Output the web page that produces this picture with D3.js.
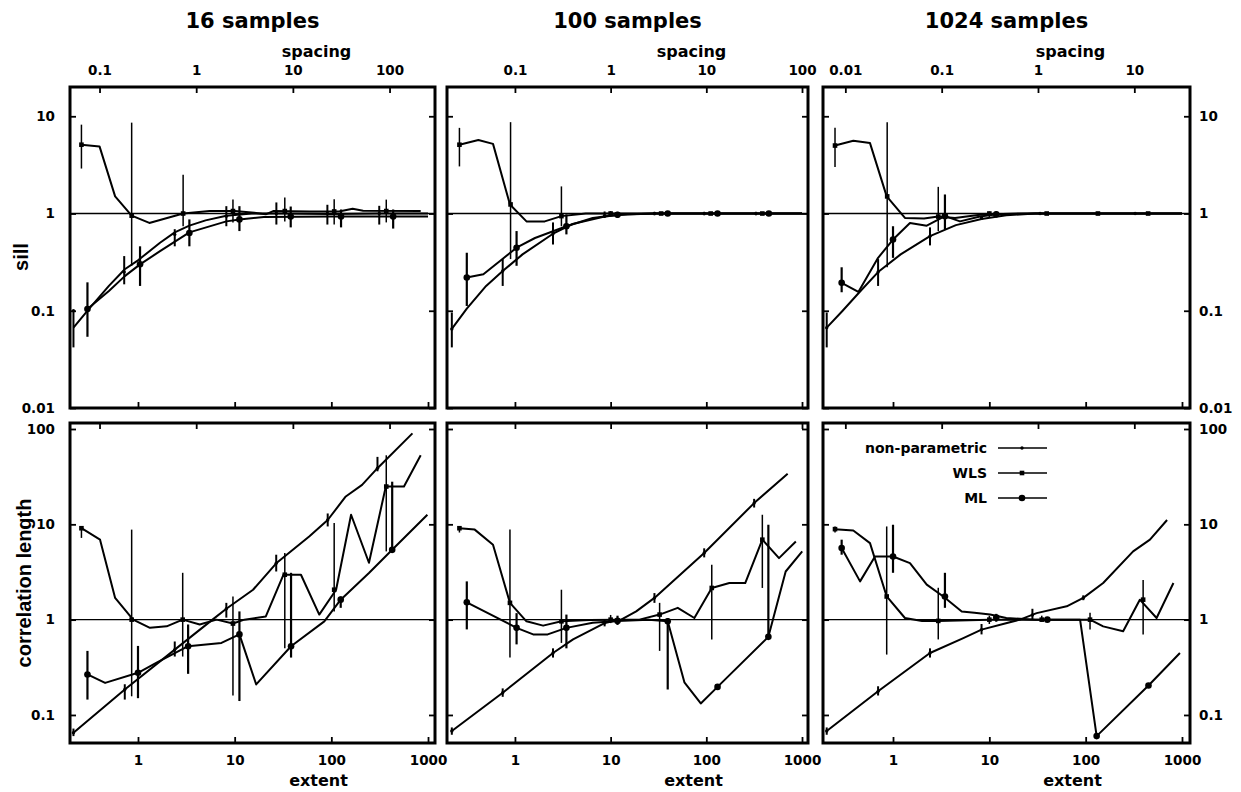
<!DOCTYPE html>
<html><head><meta charset="utf-8">
<script src="https://cdn.jsdelivr.net/npm/d3@7"></script>
<style>body{margin:0;background:#fff}svg{display:block}</style>
</head><body><svg id="c" width="1241" height="792"></svg>
<script>
// ---------------- data ----------------
const titles = ["16 samples", "100 samples", "1024 samples"];
const spacingFactor = [4, 10, 32];          // spacing = extent / sqrt(samples)
const seriesNames = ["non-parametric", "WLS", "ML"];
const extentTicks = [1, 10, 100, 1000];
const sillTicks = [0.01, 0.1, 1, 10];
const corrTicks = [0.1, 1, 10, 100];
const spacingTicks16 = [0.1, 1, 10, 100];
const spacingTicks100 = [0.1, 1, 10, 100];
const spacingTicks1024 = [0.01, 0.1, 1, 10];

// lines: [extent, value]; error bars: [extent, value, low, high]
// ---- sill, 16 samples
const sill16NP = [[0.215,0.067],[0.31,0.104],[0.5,0.18],[0.73,0.267],[1.0,0.33],[1.69,0.5],[2.4,0.64],[3.4,0.75],[5,0.85],[8.2,0.95],[15,1.0],[30,1.0],[100,0.99],[300,1.0],[1000,1.0]];
const sill16NPerr = [[0.215,0.1,0.042,0.1],[0.72,0.25,0.187,0.365],[2.4,0.61,0.46,0.69],[8.2,0.94,0.74,1.19],[27,1.0,0.77,1.3],[91,1.0,0.77,1.23],[313,1.0,0.77,1.2]];
const sill16WLS = [[0.26,5.1],[0.40,4.9],[0.58,1.5],[0.86,0.95],[1.31,0.80],[2.93,1.0],[5.5,1.06],[10,1.06],[16,1.02],[21,0.98],[25,1.06],[60,1.05],[120,1.05],[166,1.12],[213,1.07],[840,1.06]];
const sill16WLSerr = [[0.26,5.1,2.9,8.2],[0.86,0.95,0.29,8.6],[2.93,1.0,0.74,2.5],[9.6,1.06,0.81,1.39],[33,1.06,0.83,1.46],[107,1.05,0.77,1.4],[370,1.06,0.81,1.39]];
const sill16ML = [[0.30,0.104],[0.5,0.16],[0.73,0.227],[1.05,0.30],[1.69,0.41],[3.4,0.64],[8.2,0.83],[11.2,0.87],[20,0.92],[100,0.93],[1000,0.93]];
const sill16MLerr = [[0.30,0.104,0.054,0.196],[1.05,0.30,0.18,0.46],[3.4,0.63,0.46,0.87],[11.2,0.87,0.66,1.19],[38,0.93,0.72,1.18],[126,0.93,0.72,1.1],[436,0.93,0.7,1.1]];
// ---- sill, 100 samples
const sill100NP = [[0.219,0.065],[0.314,0.105],[0.5,0.18],[0.745,0.256],[1.2,0.38],[2.5,0.62],[4,0.78],[8.65,0.93],[15,0.98],[30,1.0],[1000,1.0]];
const sill100NPerr = [[0.219,0.065,0.042,0.096],[0.745,0.256,0.18,0.34],[2.5,0.62,0.48,0.81],[8.65,0.95,0.9,1.05],[28.7,1,0.96,1.04],[95,1,0.96,1.04],[330,1,0.96,1.04]];
const sill100WLS = [[0.263,5.1],[0.415,5.7],[0.59,5.2],[0.887,1.24],[1.32,0.83],[2.05,0.83],[3.06,0.94],[5.5,1.0],[1000,1.0]];
const sill100WLSerr = [[0.263,5.1,3.05,7.6],[0.9,1.24,0.34,8.7],[3.06,0.94,0.74,1.9],[10,1,0.95,1.06],[33.7,1,0.97,1.03],[111,1,0.97,1.03],[385,1,0.97,1.03]];
const sill100ML = [[0.314,0.22],[0.468,0.237],[0.73,0.337],[1.04,0.445],[1.62,0.56],[3.45,0.74],[6.5,0.9],[11.8,0.97],[30,1],[1000,1]];
const sill100MLerr = [[0.314,0.22,0.112,0.395],[1.04,0.445,0.29,0.66],[3.45,0.74,0.61,0.98],[11.8,0.97,0.9,1.04],[39.5,1,0.96,1.04],[131,1,0.96,1.04],[450,1,0.96,1.04]];
// ---- sill, 1024 samples
const sill1024NP = [[0.205,0.067],[0.3,0.1],[0.45,0.156],[0.70,0.25],[1.2,0.38],[2.42,0.585],[4.5,0.76],[8.3,0.88],[15,0.96],[30,1],[1000,1]];
const sill1024NPerr = [[0.205,0.067,0.042,0.096],[0.70,0.25,0.18,0.34],[2.42,0.585,0.47,0.72],[8.3,0.9,0.86,0.95],[33.6,1,0.98,1.02],[134,1,0.98,1.02],[326,1,0.98,1.02]];
const sill1024WLS = [[0.25,5.0],[0.387,5.6],[0.577,5.3],[0.86,1.5],[1.33,0.90],[2.1,0.89],[2.95,0.93],[4.4,0.9],[8,0.97],[20,1.0],[1000,1.0]];
const sill1024WLSerr = [[0.25,5,3,7.6],[0.87,1.5,0.28,8.7],[2.95,0.93,0.66,1.88],[10,1,0.92,1.05],[39.4,1,0.98,1.02],[134,1,0.98,1.02],[445,1,0.98,1.02]];
const sill1024ML = [[0.293,0.194],[0.437,0.156],[0.70,0.35],[1.0,0.54],[1.5,0.80],[2.24,0.75],[3.46,0.94],[4.96,0.83],[8,0.93],[12,0.98],[30,1.0],[1000,1.0]];
const sill1024MLerr = [[0.293,0.194,0.155,0.28],[1.0,0.54,0.35,0.74],[3.46,0.94,0.69,1.57],[11.8,0.98,0.92,1.05]];
// ---- correlation length, 16 samples
const corr16NP = [[0.215,0.065],[0.73,0.185],[2.4,0.485],[5.9,1.0],[8.2,1.3],[15.5,2.06],[26.9,3.9],[59,7.45],[91.7,11.1],[141,19.6],[208,25.9],[300,38.8],[690,90]];
const corr16NPerr = [[0.215,0.065,0.06,0.072],[0.73,0.185,0.145,0.21],[2.4,0.485,0.41,0.59],[8.2,1.3,1.05,1.5],[26.9,3.9,3.2,4.8],[91.7,11.1,9.5,13],[300,38.8,36,51]];
const corr16WLS = [[0.26,9.1],[0.405,6.9],[0.58,1.69],[0.89,1.0],[1.33,0.82],[1.98,0.85],[2.9,1.0],[4.35,0.89],[6.5,1.0],[9.6,0.91],[12.6,1.0],[21,1.08],[32,2.96],[48.5,2.96],[75,1.13],[112,2.06],[160,12.6],[245,3.95],[366,24.9],[564,24.9],[840,53]];
const corr16WLSerr = [[0.26,9.1,7.2,9.5],[0.86,1.0,0.157,8.8],[2.9,1.0,0.41,3.1],[9.6,0.91,0.16,1.75],[33,2.96,0.5,5.0],[107,2.06,1.22,10.3],[370,24.9,5.2,53]];
const corr16ML = [[0.30,0.266],[0.457,0.217],[1.0,0.277],[1.56,0.354],[3.3,0.526],[7.3,0.57],[11.2,0.70],[16.7,0.209],[38.3,0.526],[84.6,0.96],[125,1.62],[245,3.08],[426,5.4],[985,12.6]];
const corr16MLerr = [[0.30,0.266,0.145,0.47],[1.0,0.277,0.15,0.53],[3.3,0.526,0.27,0.89],[11.2,0.70,0.14,1.22],[38.3,0.526,0.4,3.1],[125,1.62,1.33,1.75],[426,5.4,5,28]];
// ---- correlation length, 100 samples
const corr100NP = [[0.219,0.068],[0.745,0.171],[2.5,0.447],[4.05,0.62],[8.65,0.92],[12.9,1.0],[18.5,1.22],[28.7,1.69],[95,5.0],[316,16.7],[708,34]];
const corr100NPerr = [[0.219,0.068,0.062,0.074],[0.745,0.171,0.155,0.19],[2.5,0.447,0.4,0.5],[8.65,0.92,0.85,1.0],[28.7,1.69,1.5,1.9],[95,5.0,4.5,5.6],[316,16.7,15,18.5]];
const corr100WLS = [[0.263,9.1],[0.38,8.8],[0.59,6.1],[0.887,1.5],[1.32,0.96],[1.97,0.865],[3.06,0.96],[6,0.99],[12,1.0],[20,1.0],[32.5,1.13],[50.3,1.33],[75,1.04],[114,2.15],[174,2.42],[255,2.42],[385,6.9],[575,4.42],[862,6.6]];
const corr100WLSerr = [[0.263,9.1,8.2,9.5],[0.887,1.5,0.4,8.8],[3.06,0.96,0.57,2.06],[10,1.0,0.92,1.12],[32.5,1.13,0.47,1.5],[114,2.15,0.62,3.76],[385,6.9,2.15,12.6]];
const corr100ML = [[0.314,1.52],[1.04,0.82],[1.55,0.70],[2.2,0.70],[3.45,0.82],[6.5,0.93],[11.8,0.97],[25,1.0],[39.5,0.96],[59,0.22],[87.5,0.132],[131,0.197],[445,0.66],[675,3.2],[1005,5.2]];
const corr100MLerr = [[0.314,1.52,0.79,2.52],[1.04,0.82,0.55,1.17],[3.45,0.82,0.5,1.13],[11.8,0.97,0.88,1.1],[39.5,0.96,0.185,1.04],[131,0.197,0.19,0.205],[445,0.66,0.64,9.9]];
// ---- correlation length, 1024 samples
const corr1024NP = [[0.205,0.068],[0.70,0.177],[2.42,0.447],[5.37,0.64],[8.3,0.786],[20.8,1.0],[31,1.17],[63.6,1.38],[94.5,1.69],[152,2.42],[311,5.2],[465,6.9],[700,11.1]];
const corr1024NPerr = [[0.205,0.068,0.062,0.074],[0.70,0.177,0.16,0.2],[2.42,0.447,0.4,0.5],[8.3,0.786,0.7,0.9],[28,1.12,1.0,1.3],[94.5,1.69,1.6,1.8]];
const corr1024WLS = [[0.25,8.9],[0.387,8.6],[0.577,6.35],[0.86,1.75],[1.33,1.04],[2,0.97],[2.95,0.97],[10,1.0],[20,1.0],[50,1.0],[111,1.0],[152,0.85],[245,0.755],[365,1.62],[545,1.04],[815,2.42]];
const corr1024WLSerr = [[0.25,8.9,8.2,9.5],[0.86,1.75,0.43,9.5],[2.95,0.97,0.62,2.16],[10,1.0,0.9,1.1],[35,1.0,0.95,1.1],[111,1.0,0.79,1.18],[395,1.62,0.7,2.6]];
const corr1024ML = [[0.293,5.63],[0.455,2.52],[0.65,4.6],[1.0,4.6],[1.5,3.92],[2.24,2.33],[3.33,1.75],[5.17,1.22],[7,1.18],[10.2,1.13],[15,1.04],[30,1.0],[87.5,1.0],[130,0.06],[449,0.204],[952,0.447]];
const corr1024MLerr = [[0.293,5.63,4.8,6.9],[1.0,4.6,3.1,9.9],[3.46,1.75,1.33,3.1],[11.8,1.05,0.95,1.15],[40,1.0,0.97,1.03],[130,0.06,0.058,0.062],[449,0.204,0.2,0.21]];

// ---------------- layout ----------------
const W = 1241, H = 792;
const cols = [
  {l: 70, r: 435, dom: [0.198, 1181]},
  {l: 447, r: 808, dom: [0.195, 1155]},
  {l: 823, r: 1190, dom: [0.1876, 1211]}
];
const rows = [
  {t: 87, b: 408, dom: [0.01, 20], ticks: sillTicks},
  {t: 423, b: 743, dom: [0.0508, 115.6], ticks: corrTicks}
];
const spacingTicks = [spacingTicks16, spacingTicks100, spacingTicks1024];
const panels = [
  [[sill16NP, sill16NPerr], [sill16WLS, sill16WLSerr], [sill16ML, sill16MLerr]],
  [[sill100NP, sill100NPerr], [sill100WLS, sill100WLSerr], [sill100ML, sill100MLerr]],
  [[sill1024NP, sill1024NPerr], [sill1024WLS, sill1024WLSerr], [sill1024ML, sill1024MLerr]],
  [[corr16NP, corr16NPerr], [corr16WLS, corr16WLSerr], [corr16ML, corr16MLerr]],
  [[corr100NP, corr100NPerr], [corr100WLS, corr100WLSerr], [corr100ML, corr100MLerr]],
  [[corr1024NP, corr1024NPerr], [corr1024WLS, corr1024WLSerr], [corr1024ML, corr1024MLerr]]
];
const barWidth = [2.0, 1.5, 2.2];
const FONT = "'DejaVu Sans', sans-serif";
const fmt = d => d < 1 ? String(d) : d3.format("d")(d);

const svg = d3.select("#c");
svg.append("rect").attr("width", W).attr("height", H).attr("fill", "#fff");

function drawMarker(g, kind, x, y) {
  if (kind === 0) {
    g.append("circle").attr("cx", x).attr("cy", y).attr("r", 1.7).attr("fill", "#000");
  } else if (kind === 1) {
    g.append("rect").attr("x", x - 2.3).attr("y", y - 2.3).attr("width", 4.6).attr("height", 4.6).attr("fill", "#000");
  } else {
    g.append("circle").attr("cx", x).attr("cy", y).attr("r", 3.3).attr("fill", "#000");
  }
}

rows.forEach((row, ri) => {
  cols.forEach((col, ci) => {
    const x = d3.scaleLog().domain(col.dom).range([col.l, col.r]);
    const sp = d3.scaleLog().domain(col.dom.map(v => v / spacingFactor[ci])).range([col.l, col.r]);
    const y = d3.scaleLog().domain(row.dom).range([row.b, row.t]);
    const id = "clip" + ri + ci;
    svg.append("clipPath").attr("id", id).append("rect")
      .attr("x", col.l).attr("y", row.t).attr("width", col.r - col.l).attr("height", row.b - row.t);
    const g = svg.append("g").attr("clip-path", `url(#${id})`);
    // reference line at 1
    g.append("line").attr("x1", col.l).attr("x2", col.r).attr("y1", y(1)).attr("y2", y(1))
      .attr("stroke", "#000").attr("stroke-width", 1.3);
    const line = d3.line().x(d => x(d[0])).y(d => y(d[1]));
    const series = panels[ri * 3 + ci];
    series.forEach(([pts, errs], si) => {
      g.append("path").attr("d", line(pts)).attr("fill", "none")
        .attr("stroke", "#000").attr("stroke-width", 2.0).attr("stroke-linejoin", "round");
      errs.forEach(e => {
        g.append("line").attr("x1", x(e[0])).attr("x2", x(e[0]))
          .attr("y1", y(e[2])).attr("y2", y(e[3]))
          .attr("stroke", "#000").attr("stroke-width", barWidth[si]);
        drawMarker(g, si, x(e[0]), y(e[1]));
      });
    });
    // frame
    svg.append("rect").attr("x", col.l).attr("y", row.t)
      .attr("width", col.r - col.l).attr("height", row.b - row.t)
      .attr("fill", "none").attr("stroke", "#000").attr("stroke-width", 3);
    // axes
    const styleAxis = a => {
      a.select(".domain").remove();
      a.selectAll(".tick line").attr("stroke", "#000").attr("stroke-width", 1.8);
      a.selectAll(".tick text").attr("fill", "#000").attr("font-family", FONT)
        .attr("font-weight", "bold").attr("font-size", 13.5);
    };
    svg.append("g").attr("transform", `translate(0,${row.t})`)
      .call(d3.axisTop(sp).tickValues(spacingTicks[ci]).tickSize(-6).tickPadding(12)
        .tickFormat(ri === 0 ? fmt : () => ""))
      .call(styleAxis);
    svg.append("g").attr("transform", `translate(0,${row.b})`)
      .call(d3.axisBottom(x).tickValues(extentTicks).tickSize(-6).tickPadding(12)
        .tickFormat(ri === 1 ? fmt : () => ""))
      .call(styleAxis);
    svg.append("g").attr("transform", `translate(${col.l},0)`)
      .call(d3.axisLeft(y).tickValues(row.ticks).tickSize(-6).tickPadding(15)
        .tickFormat(ci === 0 ? fmt : () => ""))
      .call(styleAxis);
    svg.append("g").attr("transform", `translate(${col.r},0)`)
      .call(d3.axisRight(y).tickValues(row.ticks).tickSize(-6).tickPadding(9)
        .tickFormat(ci === 2 ? fmt : () => ""))
      .call(styleAxis);

    const cx = (col.l + col.r) / 2;
    if (ri === 0) {
      svg.append("text").attr("x", cx).attr("y", 28).attr("text-anchor", "middle")
        .attr("font-family", FONT).attr("font-weight", "bold").attr("font-size", 21).text(titles[ci]);
      svg.append("text").attr("x", cx + 64).attr("y", 57).attr("text-anchor", "middle")
        .attr("font-family", FONT).attr("font-weight", "bold").attr("font-size", 16).text("spacing");
    } else {
      svg.append("text").attr("x", cx + 66).attr("y", 786).attr("text-anchor", "middle")
        .attr("font-family", FONT).attr("font-weight", "bold").attr("font-size", 16).text("extent");
    }
  });
});

// y axis titles
svg.append("text").attr("transform", "translate(28,257) rotate(-90)").attr("text-anchor", "middle")
  .attr("font-family", "'Liberation Sans', Arial, sans-serif").attr("font-weight", "bold").attr("font-size", 20).text("sill");
svg.append("text").attr("transform", "translate(31,583) rotate(-90)").attr("text-anchor", "middle")
  .attr("font-family", "'Liberation Sans', Arial, sans-serif").attr("font-weight", "bold").attr("font-size", 20).text("correlation length");

// legend (in bottom-right panel)
const legendY = [448, 473, 498];
const lg = svg.append("g");
seriesNames.forEach((name, i) => {
  lg.append("text").attr("x", 987).attr("y", legendY[i] + 5).attr("text-anchor", "end")
    .attr("font-family", FONT).attr("font-weight", "bold").attr("font-size", 14).text(name);
  lg.append("line").attr("x1", 998).attr("x2", 1047).attr("y1", legendY[i]).attr("y2", legendY[i])
    .attr("stroke", "#000").attr("stroke-width", 1.5);
  drawMarker(lg, i, 1022, legendY[i]);
});
</script></body></html>
